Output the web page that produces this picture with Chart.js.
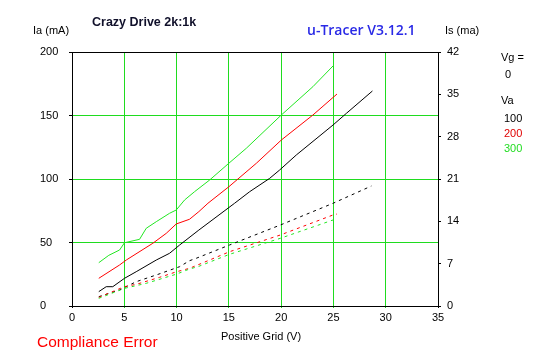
<!DOCTYPE html>
<html>
<head>
<meta charset="utf-8">
<script src="https://cdn.jsdelivr.net/npm/chart.js@4/dist/chart.umd.min.js"></script>
<style>
  html, body { margin: 0; padding: 0; background: #ffffff; }
  #wrap { position: relative; width: 547px; height: 357px; overflow: hidden; }
  #c { position: absolute; left: 0; top: 0; }
  .t { position: absolute; white-space: nowrap; font-family: "Liberation Sans", Arial, sans-serif; font-size: 11px; line-height: 11px; color: #000; }
</style>
</head>
<body>
<div id="wrap">
  <canvas id="c" width="547" height="357"></canvas>
  <div class="t" style="left:33px;top:25px;">Ia (mA)</div>
  <div class="t" style="left:92px;top:16px;font-weight:bold;font-size:12.5px;line-height:13px;color:#10102a;">Crazy Drive 2k:1k</div>
  <div class="t" style="left:307px;top:22px;font-family:'Open Sans',sans-serif;font-size:14px;line-height:16px;font-weight:600;color:#2a2ae6;">u-Tracer V3.12.1</div>
  <div class="t" style="left:445px;top:25px;">Is (ma)</div>
  <div class="t" style="left:501px;top:52px;">Vg =</div>
  <div class="t" style="left:505px;top:69px;">0</div>
  <div class="t" style="left:501px;top:95px;">Va</div>
  <div class="t" style="left:504px;top:113px;color:#000;">100</div>
  <div class="t" style="left:504px;top:128px;color:#e00000;">200</div>
  <div class="t" style="left:504px;top:143px;color:#22dd22;">300</div>
  <div class="t" style="left:221px;top:331px;">Positive Grid (V)</div>
  <div class="t" style="left:37px;top:333px;font-size:15.5px;line-height:17px;color:#ff0000;">Compliance Error</div>
</div>
<script>
// Tick labels / axes
const xTicks = [0, 5, 10, 15, 20, 25, 30, 35];
const iaTicks = [0, 50, 100, 150, 200];
const isTicks = [0, 7, 14, 21, 28, 35, 42];

// Anode current Ia (mA), left axis — grid volts and values
const ia100_x = [2.56, 3.27, 3.9, 5.02, 6.14, 8.06, 9.33, 10.29, 12.13, 15.55, 16.99, 18.9, 19.86, 21.45, 24.96, 26.24, 28.73];
const ia100_y = [11.3, 15.2, 15.2, 21.8, 27.0, 36.2, 41.5, 48.0, 59.8, 80.9, 90.0, 100.5, 107.1, 118.9, 142.5, 151.7, 169.3];

const ia200_x = [2.56, 4.55, 5.19, 7.73, 9.01, 9.97, 11.24, 12.13, 13.0, 15.0, 17.63, 20.02, 23.04, 25.34];
const ia200_y = [21.8, 32.3, 36.2, 49.4, 57.2, 64.6, 68.3, 74.3, 80.9, 93.9, 112.4, 130.7, 150.4, 166.9];

const ia300_x = [2.56, 3.52, 4.55, 5.02, 6.46, 7.10, 8.06, 9.33, 9.97, 10.77, 11.72, 13.16, 15.0, 16.67, 20.02, 23.04, 24.96];
const ia300_y = [34.1, 39.9, 44.1, 49.8, 52.5, 61.2, 66.4, 73.0, 75.6, 83.5, 90.0, 99.2, 112.4, 124.2, 150.4, 172.7, 189.0];

// Screen current Is (mA), right axis
const is100_x = [2.56, 4.55, 6.14, 8.06, 10.29, 11.24, 11.88, 15.07, 19.92, 24.96, 28.63];
const is100_y = [1.54, 2.65, 4.02, 5.13, 6.5, 7.49, 7.89, 10.09, 13.39, 16.98, 19.84];

const is200_x = [2.56, 5.02, 6.14, 8.37, 10.03, 11.24, 12.04, 15.07, 19.92, 24.96, 25.34];
const is200_y = [1.43, 3.2, 3.58, 4.74, 5.68, 6.23, 6.8, 8.98, 11.74, 15.05, 15.21];

const is300_x = [2.56, 5.02, 7.1, 10.03, 11.24, 12.04, 15.07, 19.92, 24.96];
const is300_y = [1.27, 2.92, 3.75, 5.29, 6.12, 6.5, 8.55, 11.19, 14.22];

const C_BLACK = '#000000';
const C_RED = '#ff0000';
const C_GREEN = '#22e622';
const C_GRID = '#1fdc1f';

function pts(xs, ys) { return xs.map((x, i) => ({ x: x, y: ys[i] })); }

function line(xs, ys, color, axis, dashed) {
  return {
    data: pts(xs, ys),
    borderColor: color,
    backgroundColor: color,
    borderWidth: 1,
    pointRadius: 0,
    tension: 0,
    fill: false,
    yAxisID: axis,
    borderDash: dashed ? [3, 4] : []
  };
}

const tickFont = { family: "'Liberation Sans', Arial, sans-serif", size: 11 };

new Chart(document.getElementById('c'), {
  type: 'line',
  data: {
    datasets: [
      line(is300_x, is300_y, C_GREEN, 'y1', true),
      line(is200_x, is200_y, C_RED, 'y1', true),
      line(is100_x, is100_y, C_BLACK, 'y1', true),
      line(ia300_x, ia300_y, C_GREEN, 'y', false),
      line(ia200_x, ia200_y, C_RED, 'y', false),
      line(ia100_x, ia100_y, C_BLACK, 'y', false)
    ]
  },
  options: {
    responsive: false,
    animation: false,
    devicePixelRatio: 1,
    layout: { padding: { left: 40, top: 52, right: 69, bottom: 0 } },
    plugins: { legend: { display: false }, title: { display: false }, tooltip: { enabled: false } },
    scales: {
      x: {
        type: 'linear',
        min: 0, max: 35,
        afterBuildTicks: (s) => { s.ticks = xTicks.map(v => ({ value: v })); },
        afterFit: (s) => { s.height = 51; },
        ticks: { color: '#000', font: tickFont, padding: 3, maxRotation: 0, autoSkip: false },
        grid: {
          color: (ctx) => (ctx.tick && (ctx.tick.value === 0 || ctx.tick.value === 35)) ? C_BLACK : C_GRID,
          tickLength: 2,
          lineWidth: 1
        },
        border: { color: C_BLACK, width: 1 }
      },
      y: {
        type: 'linear',
        position: 'left',
        min: 0, max: 200,
        afterBuildTicks: (s) => { s.ticks = iaTicks.map(v => ({ value: v })); },
        afterFit: (s) => { s.width = 32; },
        ticks: { color: '#000', font: tickFont, crossAlign: 'far', padding: 4 },
        grid: {
          color: (ctx) => (ctx.tick && (ctx.tick.value === 0 || ctx.tick.value === 200)) ? C_BLACK : C_GRID,
          tickColor: C_BLACK,
          tickLength: 3,
          lineWidth: 1
        },
        border: { color: C_BLACK, width: 1 }
      },
      y1: {
        type: 'linear',
        position: 'right',
        min: 0, max: 42,
        afterBuildTicks: (s) => { s.ticks = isTicks.map(v => ({ value: v })); },
        afterFit: (s) => { s.width = 40; },
        ticks: { color: '#000', font: tickFont, padding: 6 },
        grid: { drawOnChartArea: false, tickColor: C_BLACK, tickLength: 3, lineWidth: 1 },
        border: { color: C_BLACK, width: 1 }
      }
    }
  }
});
</script>
</body>
</html>
